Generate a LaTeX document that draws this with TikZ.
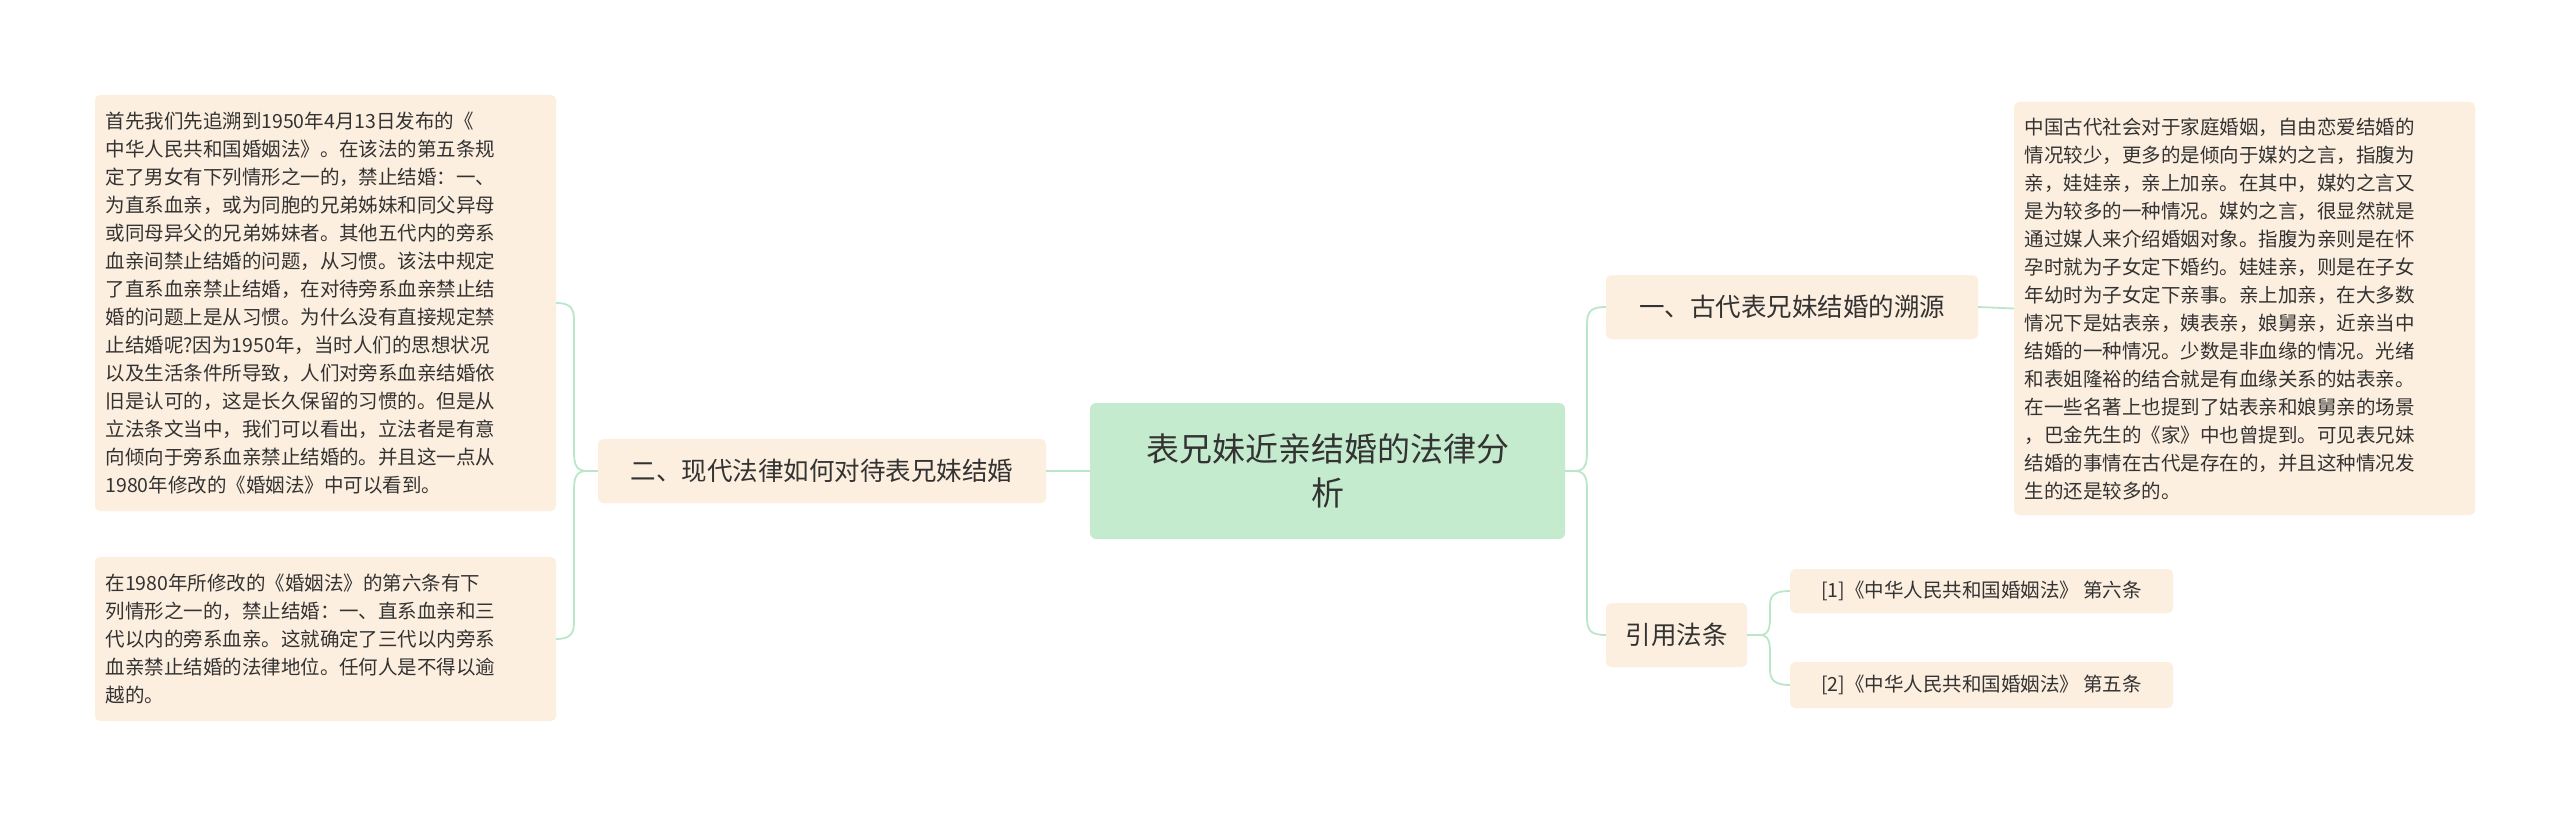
\documentclass[tikz,border=0pt]{standalone}
\usepackage{fontspec}
\setmainfont{Noto Sans CJK SC}
\begin{document}
\begin{tikzpicture}[x=1pt,y=-1pt,
  leaf/.style={fill=peach,rounded corners=5pt,inner sep=0pt,align=left,text=txt,font=\fontsize{19.5}{28}\selectfont},
  branch/.style={fill=peach,rounded corners=5pt,inner sep=0pt,text=txt,font=\fontsize{25.5}{30}\selectfont},
  conn/.style={draw=lg,line width=1.8pt}]
\definecolor{peach}{HTML}{FDEFDF}
\definecolor{lg}{HTML}{BCE6C8}
\definecolor{cen}{HTML}{C5EBCE}
\definecolor{txt}{HTML}{333333}
\useasboundingbox (0,0) rectangle (2560,813);
\fill[white] (0,0) rectangle (2560,813);
\node[fill=cen,rounded corners=6pt,minimum width=475pt,minimum height=136pt,align=center,text=txt,font=\fontsize{33}{44}\selectfont] (c) at (1327.5,471) {表兄妹近亲结婚的法律分\\析};
\node[branch,minimum width=448pt,minimum height=64pt] (b2) at (822,471) {二、现代法律如何对待表兄妹结婚};
\node[branch,minimum width=372pt,minimum height=64pt] (b1) at (1792,307) {一、古代表兄妹结婚的溯源};
\node[branch,minimum width=141pt,minimum height=64pt] (b3) at (1676.5,635) {引用法条};
\node[leaf,minimum width=461pt,minimum height=416pt] (l1) at (325.5,303) {\parbox{440pt}{首先我们先追溯到1950年4月13日发布的《\\中华人民共和国婚姻法》。在该法的第五条规\\定了男女有下列情形之一的，禁止结婚：一、\\为直系血亲，或为同胞的兄弟姊妹和同父异母\\或同母异父的兄弟姊妹者。其他五代内的旁系\\血亲间禁止结婚的问题，从习惯。该法中规定\\了直系血亲禁止结婚，在对待旁系血亲禁止结\\婚的问题上是从习惯。为什么没有直接规定禁\\止结婚呢?因为1950年，当时人们的思想状况\\以及生活条件所导致，人们对旁系血亲结婚依\\旧是认可的，这是长久保留的习惯的。但是从\\立法条文当中，我们可以看出，立法者是有意\\向倾向于旁系血亲禁止结婚的。并且这一点从\\1980年修改的《婚姻法》中可以看到。}};
\node[leaf,minimum width=461pt,minimum height=164pt] (l2) at (325.5,639) {\parbox{440pt}{在1980年所修改的《婚姻法》的第六条有下\\列情形之一的，禁止结婚：一、直系血亲和三\\代以内的旁系血亲。这就确定了三代以内旁系\\血亲禁止结婚的法律地位。任何人是不得以逾\\越的。}};
\node[leaf,minimum width=461pt,minimum height=413pt] (r1) at (2244.5,308.5) {\parbox{440pt}{中国古代社会对于家庭婚姻，自由恋爱结婚的\\情况较少，更多的是倾向于媒妁之言，指腹为\\亲，娃娃亲，亲上加亲。在其中，媒妁之言又\\是为较多的一种情况。媒妁之言，很显然就是\\通过媒人来介绍婚姻对象。指腹为亲则是在怀\\孕时就为子女定下婚约。娃娃亲，则是在子女\\年幼时为子女定下亲事。亲上加亲，在大多数\\情况下是姑表亲，姨表亲，娘舅亲，近亲当中\\结婚的一种情况。少数是非血缘的情况。光绪\\和表姐隆裕的结合就是有血缘关系的姑表亲。\\在一些名著上也提到了姑表亲和娘舅亲的场景\\，巴金先生的《家》中也曾提到。可见表兄妹\\结婚的事情在古代是存在的，并且这种情况发\\生的还是较多的。}};
\node[leaf,minimum width=383pt,minimum height=44pt,align=center] (q1) at (1981.5,591) {[1]《中华人民共和国婚姻法》 第六条};
\node[leaf,minimum width=383pt,minimum height=46pt,align=center] (q2) at (1981.5,685) {[2]《中华人民共和国婚姻法》 第五条};
\draw[conn] (c.west) -- (b2.east);
\draw[conn] (b2.west) -- (586,471) .. controls (574,471) and (574,460) .. (574,450) -- (574,320) .. controls (574,308) and (570,303) .. (l1.east);
\draw[conn] (586,471) .. controls (574,471) and (574,482) .. (574,492) -- (574,622) .. controls (574,634) and (570,639) .. (l2.east);
\draw[conn] (c.east) -- (1575,471) .. controls (1587,471) and (1587,460) .. (1587,450) -- (1587,325) .. controls (1587,312) and (1590,307) .. (b1.west);
\draw[conn] (1575,471) .. controls (1587,471) and (1587,482) .. (1587,492) -- (1587,617) .. controls (1587,630) and (1590,635) .. (b3.west);
\draw[conn] (b1.east) -- (r1.west);
\draw[conn] (b3.east) -- (1760,635) .. controls (1770,635) and (1770,625) .. (1770,615) -- (1770,605) .. controls (1770,595) and (1775,591) .. (q1.west);
\draw[conn] (1760,635) .. controls (1770,635) and (1770,645) .. (1770,655) -- (1770,670) .. controls (1770,680) and (1775,685) .. (q2.west);
\end{tikzpicture}
\end{document}
